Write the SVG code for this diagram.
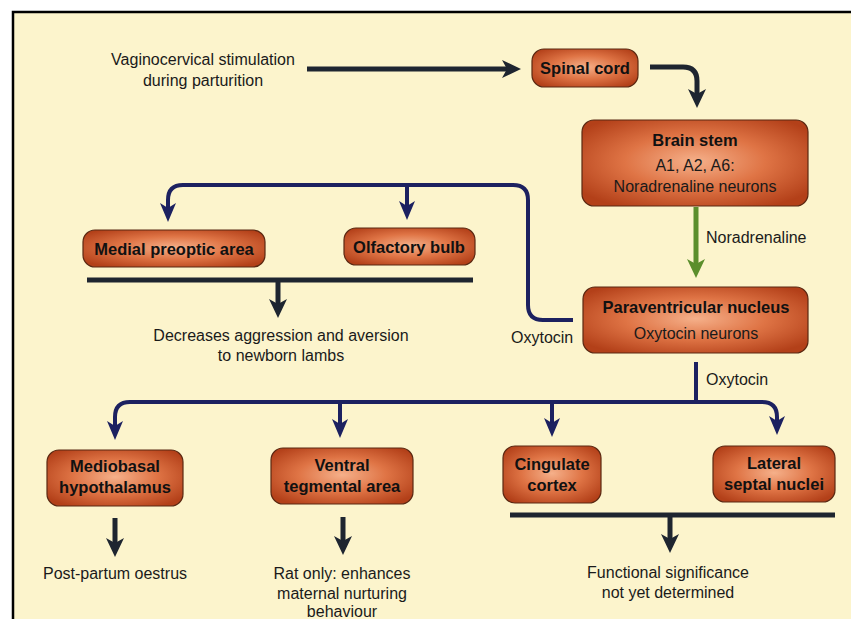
<svg xmlns="http://www.w3.org/2000/svg" width="851" height="619" viewBox="0 0 851 619">
<defs>
<radialGradient id="nodeFill" cx="50%" cy="48%" r="62%">
<stop offset="0" stop-color="#f5b08a"/>
<stop offset="0.5" stop-color="#df7445"/>
<stop offset="1" stop-color="#b34019"/>
</radialGradient>
<marker id="aNavy" viewBox="0 -10 20 20" markerWidth="20" markerHeight="20" refX="5" refY="0" orient="auto" markerUnits="userSpaceOnUse" overflow="visible">
<path d="M0,-8 L19,0 L0,8 L5,0 Z" fill="#1c2160"/>
</marker>
<marker id="aDark" viewBox="0 -10 20 20" markerWidth="20" markerHeight="20" refX="5" refY="0" orient="auto" markerUnits="userSpaceOnUse" overflow="visible">
<path d="M0,-9 L19,0 L0,9 L5,0 Z" fill="#1e2530"/>
</marker>
<marker id="aGreen" viewBox="0 -10 20 20" markerWidth="20" markerHeight="20" refX="5" refY="0" orient="auto" markerUnits="userSpaceOnUse" overflow="visible">
<path d="M0,-9 L19,0 L0,9 L5,0 Z" fill="#5b8e2c"/>
</marker>
</defs>
<style>
.box{fill:url(#nodeFill);stroke:#5a2812;stroke-width:1.2}
.b{font-family:"Liberation Sans",Arial,sans-serif;font-weight:bold;font-size:16.5px;fill:#111;text-anchor:middle}
.r{font-family:"Liberation Sans",Arial,sans-serif;font-size:16px;fill:#1a1a1a;text-anchor:middle}
.rl{font-family:"Liberation Sans",Arial,sans-serif;font-size:16px;fill:#1a1a1a}
.navy{fill:none;stroke:#1c2160;stroke-width:4}
.dark{fill:none;stroke:#1e2530;stroke-width:5}
.green{fill:none;stroke:#5b8e2c;stroke-width:5}
</style>
<rect x="0" y="0" width="851" height="619" fill="#ffffff"/>
<rect x="13" y="12" width="838" height="607" fill="#fcf4cc"/>
<path d="M13,619 V12 H851" fill="none" stroke="#000" stroke-width="2.5"/>

<g id="connectors">
<path class="dark" d="M307,69 H507" marker-end="url(#aDark)"/>
<path class="dark" d="M650,67 H683 Q697,67 697,81 V94" marker-end="url(#aDark)"/>
<path class="green" d="M696,207 V264" marker-end="url(#aGreen)"/>
<path class="navy" d="M573,320 H543 Q528,320 528,305 V200 Q528,185 513,185 H183 Q168,185 168,200 V208" marker-end="url(#aNavy)"/>
<path class="navy" d="M407,185 V206" marker-end="url(#aNavy)"/>
<path class="dark" d="M87,280 H473"/>
<path class="dark" d="M278,282 V304" marker-end="url(#aDark)"/>
<path class="navy" d="M696,362 V402"/>
<path class="navy" d="M552,402 H130 Q115,402 115,417 V426" marker-end="url(#aNavy)"/>
<path class="navy" d="M552,402 H762 Q777,402 777,417 V421" marker-end="url(#aNavy)"/>
<path class="navy" d="M340,402 V424" marker-end="url(#aNavy)"/>
<path class="navy" d="M552,402 V423" marker-end="url(#aNavy)"/>
<path class="dark" d="M115,518 V543" marker-end="url(#aDark)"/>
<path class="dark" d="M343,517 V541" marker-end="url(#aDark)"/>
<path class="dark" d="M510,515 H835"/>
<path class="dark" d="M670,517 V539" marker-end="url(#aDark)"/>
</g>

<g id="labels">
<text class="r" x="203" y="65">Vaginocervical stimulation</text>
<text class="r" x="203" y="86">during parturition</text>
<text class="rl" x="706" y="243">Noradrenaline</text>
<text class="rl" x="511" y="343">Oxytocin</text>
<text class="rl" x="706" y="385">Oxytocin</text>
<text class="r" x="281" y="341">Decreases aggression and aversion</text>
<text class="r" x="281" y="361">to newborn lambs</text>
<text class="r" x="115" y="579">Post-partum oestrus</text>
<text class="r" x="342" y="579">Rat only: enhances</text>
<text class="r" x="342" y="599">maternal nurturing</text>
<text class="r" x="342" y="617">behaviour</text>
<text class="r" x="668" y="578">Functional significance</text>
<text class="r" x="668" y="598">not yet determined</text>
</g>

<g id="spinal-cord">
<rect class="box" x="532" y="49" width="106" height="38" rx="12"/>
<text class="b" x="585" y="74">Spinal cord</text>
</g>
<g id="brain-stem">
<rect class="box" x="582" y="120" width="226" height="86" rx="12"/>
<text class="b" x="695" y="146">Brain stem</text>
<text class="r" x="695" y="171">A1, A2, A6:</text>
<text class="r" x="695" y="192">Noradrenaline neurons</text>
</g>
<g id="paraventricular-nucleus">
<rect class="box" x="583" y="287" width="225" height="66" rx="12"/>
<text class="b" x="696" y="313">Paraventricular nucleus</text>
<text class="r" x="696" y="339">Oxytocin neurons</text>
</g>
<g id="medial-preoptic-area">
<rect class="box" x="83" y="230" width="182" height="37" rx="12"/>
<text class="b" x="174" y="255">Medial preoptic area</text>
</g>
<g id="olfactory-bulb">
<rect class="box" x="344" y="228" width="131" height="37" rx="12"/>
<text class="b" x="409" y="253">Olfactory bulb</text>
</g>
<g id="mediobasal-hypothalamus">
<rect class="box" x="47" y="450" width="136" height="56" rx="12"/>
<text class="b" x="115" y="472">Mediobasal</text>
<text class="b" x="115" y="493">hypothalamus</text>
</g>
<g id="ventral-tegmental-area">
<rect class="box" x="271" y="448" width="142" height="56" rx="12"/>
<text class="b" x="342" y="471">Ventral</text>
<text class="b" x="342" y="492">tegmental area</text>
</g>
<g id="cingulate-cortex">
<rect class="box" x="503" y="446" width="98" height="57" rx="12"/>
<text class="b" x="552" y="470">Cingulate</text>
<text class="b" x="552" y="491">cortex</text>
</g>
<g id="lateral-septal-nuclei">
<rect class="box" x="713" y="446" width="122" height="56" rx="12"/>
<text class="b" x="774" y="469">Lateral</text>
<text class="b" x="774" y="490">septal nuclei</text>
</g>
</svg>
